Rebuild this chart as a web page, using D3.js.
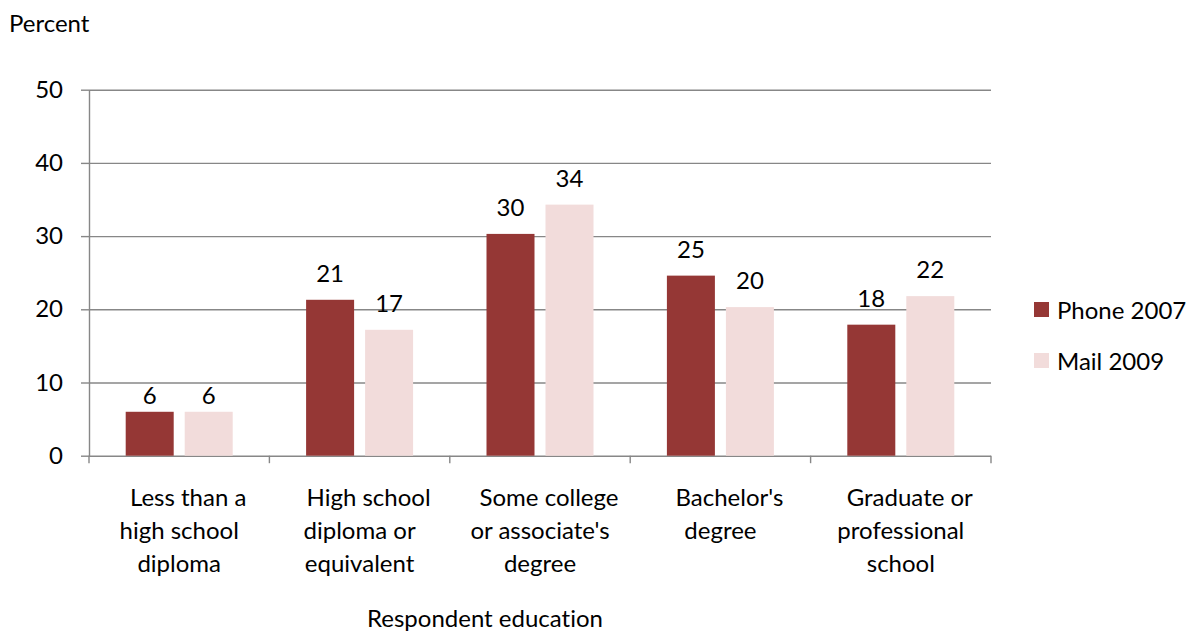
<!DOCTYPE html>
<html>
<head>
<meta charset="utf-8">
<script src="https://cdn.jsdelivr.net/npm/d3@7"></script>
<style>
  html, body { margin: 0; padding: 0; background: #ffffff; }
  svg text { font-family: Lato, "Open Sans", sans-serif; fill: #000; font-variant-ligatures: none; }
</style>
</head>
<body>
<svg id="chart" width="1186" height="631"></svg>
<script>
// Share of respondents by education level, phone survey (2007) vs mail survey (2009)
const categories = [
  "Less than a high school diploma",
  "High school diploma or equivalent",
  "Some college or associate's degree",
  "Bachelor's degree",
  "Graduate or professional school"
];
const categoryLines = [
  ["Less than a", "high school", "diploma"],
  ["High school", "diploma or", "equivalent"],
  ["Some college", "or associate's", "degree"],
  ["Bachelor's", "degree"],
  ["Graduate or", "professional", "school"]
];
const seriesNames = ["Phone 2007", "Mail 2009"];
const phone2007 = [6.0, 21.3, 30.3, 24.6, 17.9];
const mail2009 = [6.0, 17.2, 34.3, 20.3, 21.8];
const yTicks = [0, 10, 20, 30, 40, 50];
const yLabel = "Percent";
const xLabel = "Respondent education";

const colors = { "Phone 2007": "#953735", "Mail 2009": "#f2dcdb" };
const fontSize = 24;
const gridColor = "#878787";

const svg = d3.select("#chart");
const plot = { left: 89, right: 991, top: 89.7, bottom: 455.7 };
const plotW = plot.right - plot.left;

const x0 = d3.scaleBand().domain(categories).range([plot.left, plot.right]).padding(0);
const pairW = 107;
const x1 = d3.scaleBand()
  .domain(seriesNames)
  .range([(x0.bandwidth() - pairW) / 2, (x0.bandwidth() + pairW) / 2])
  .paddingInner(11 / 59)
  .paddingOuter(0);
const y = d3.scaleLinear().domain([0, 50]).range([plot.bottom, plot.top]);

// horizontal gridlines
const grid = svg.append("g")
  .attr("transform", `translate(${plot.left},0)`)
  .call(d3.axisLeft(y).tickValues(yTicks).tickSize(-plotW).tickFormat(""));
grid.select(".domain").remove();
grid.selectAll("line").attr("stroke", gridColor).attr("stroke-width", 1.4);

// y axis with outward ticks
const yAxis = svg.append("g")
  .attr("transform", `translate(${plot.left},0)`)
  .call(d3.axisLeft(y).tickValues(yTicks).tickSize(8).tickSizeOuter(0).tickPadding(18));
yAxis.select(".domain").attr("stroke", gridColor).attr("stroke-width", 1.4);
yAxis.selectAll(".tick line").attr("stroke", gridColor).attr("stroke-width", 1.4);
yAxis.selectAll(".tick text")
  .attr("font-size", fontSize)
  .attr("font-family", "Lato, 'Open Sans', sans-serif")
  .attr("fill", "#000");

// category boundary ticks along the baseline
const boundaries = categories.map(c => x0(c)).concat([plot.right]);
svg.append("g").selectAll("line")
  .data(boundaries)
  .join("line")
  .attr("x1", d => d).attr("x2", d => d)
  .attr("y1", plot.bottom).attr("y2", plot.bottom + 7.5)
  .attr("stroke", gridColor).attr("stroke-width", 1.4);

// bars
const rows = categories.map((c, i) => ({
  category: c,
  index: i,
  values: [
    { series: "Phone 2007", value: phone2007[i], index: i },
    { series: "Mail 2009", value: mail2009[i], index: i }
  ]
}));

const groups = svg.append("g").selectAll("g")
  .data(rows)
  .join("g")
  .attr("transform", d => `translate(${x0(d.category)},0)`);

groups.selectAll("rect")
  .data(d => d.values)
  .join("rect")
  .attr("x", d => x1(d.series))
  .attr("width", x1.bandwidth())
  .attr("y", d => y(d.value))
  .attr("height", d => y(0) - y(d.value))
  .attr("fill", d => colors[d.series]);

// value labels sit above each bar; the short first pair keeps its labels closer
groups.selectAll("text.value")
  .data(d => d.values)
  .join("text")
  .attr("class", "value")
  .attr("x", d => x1(d.series) + x1.bandwidth() / 2)
  .attr("y", d => y(d.value) - (d.index === 0 ? 8 : 18))
  .attr("text-anchor", "middle")
  .attr("font-size", fontSize)
  .text(d => d3.format(".0f")(d.value));

// category labels
const catLabels = svg.append("g").selectAll("text")
  .data(categories.map((c, i) => ({ c, lines: categoryLines[i] })))
  .join("text")
  .attr("text-anchor", "middle")
  .attr("font-size", fontSize);
catLabels.selectAll("tspan")
  .data(d => d.lines.map((l, j) => ({ l, j, x: x0(d.c) + x0.bandwidth() / 2 })))
  .join("tspan")
  .attr("x", d => d.x + (d.j === 0 ? 9 : 0))
  .attr("y", d => 506 + d.j * 33)
  .text(d => d.l);

// axis titles
svg.append("text")
  .attr("x", 9).attr("y", 32)
  .attr("font-size", fontSize)
  .text(yLabel);

svg.append("text")
  .attr("x", 485).attr("y", 627)
  .attr("text-anchor", "middle")
  .attr("font-size", fontSize)
  .text(xLabel);

// legend
const legend = svg.append("g").selectAll("g")
  .data(seriesNames)
  .join("g")
  .attr("transform", (d, i) => `translate(1034,${302 + i * 51})`);
legend.append("rect")
  .attr("width", 15).attr("height", 15)
  .attr("fill", d => colors[d]);
legend.append("text")
  .attr("x", 23).attr("y", 16.5)
  .attr("font-size", fontSize)
  .text(d => d);
</script>
</body>
</html>
